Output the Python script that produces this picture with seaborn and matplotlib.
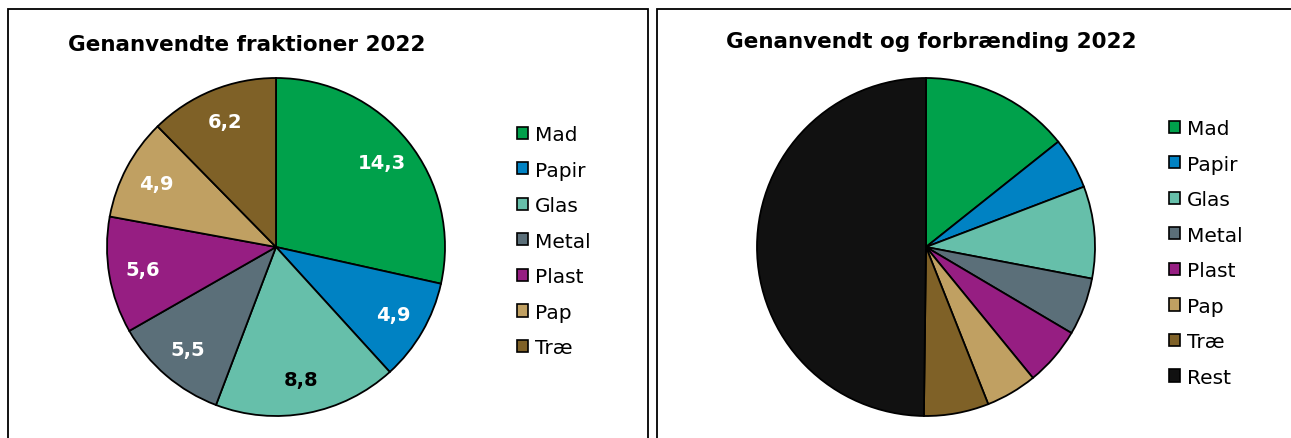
import matplotlib
matplotlib.use("Agg")
import matplotlib.pyplot as plt
from matplotlib.patches import Patch, Rectangle
import seaborn as sns

sns.set_theme(style="white")
plt.rcParams['font.family'] = ['DejaVu Sans']
plt.rcParams['text.color'] = 'black'

# ---- data ----
categories_left = ["Mad", "Papir", "Glas", "Metal", "Plast", "Pap", "Træ"]
values_left = [14.3, 4.9, 8.8, 5.5, 5.6, 4.9, 6.2]
categories_right = ["Mad", "Papir", "Glas", "Metal", "Plast", "Pap", "Træ", "Rest"]
values_right = [14.3, 4.9, 8.8, 5.5, 5.6, 4.9, 6.2, 49.8]
label_texts = ["14,3", "4,9", "8,8", "5,5", "5,6", "4,9", "6,2"]
label_colors = ["white", "white", "black", "white", "white", "white", "white"]
colors = ["#00A14B", "#0082C3", "#66BFAA", "#5B6F79", "#961E82", "#C0A062", "#7F6127", "#111111"]
title_left = "Genanvendte fraktioner 2022"
title_right = "Genanvendt og forbrænding 2022"

W, H = 1291, 439
fig = plt.figure(figsize=(W / 100, H / 100), dpi=100)
fig.patch.set_facecolor("white")

R = 169.0  # pie radius px
LIM = 1.25
side = 2 * LIM * R


def pie_axes(cx, cy):
    left = (cx - side / 2) / W
    bottom = (H - cy - side / 2) / H
    return fig.add_axes([left, bottom, side / W, side / H])


# panel borders
for x0, x1 in [(7.5, 648.5), (656.5, 1300)]:
    fig.add_artist(Rectangle((x0 / W, -20 / H), (x1 - x0) / W, (H - 9.5 + 20) / H,
                             transform=fig.transFigure, fill=False,
                             edgecolor="black", linewidth=1.3))

# left pie
axL = pie_axes(276, 248)
wedges, _, autotexts = axL.pie(values_left, colors=colors[:7], startangle=90,
                               counterclock=False, autopct="%1.1f", pctdistance=0.8,
                               wedgeprops=dict(edgecolor="black", linewidth=1.3))
for t, s, c in zip(autotexts, label_texts, label_colors):
    t.set_text(s)
    t.set_color(c)
    t.set_fontsize(14)
    t.set_fontweight("bold")
axL.set_xlim(-LIM, LIM)
axL.set_ylim(-LIM, LIM)
axL.set_aspect("equal")
axL.axis("off")

# right pie
axR = pie_axes(926, 248)
axR.pie(values_right, colors=colors, startangle=90, counterclock=False,
        wedgeprops=dict(edgecolor="black", linewidth=1.3))
axR.set_xlim(-LIM, LIM)
axR.set_ylim(-LIM, LIM)
axR.set_aspect("equal")
axR.axis("off")

# titles
fig.text(68 / W, 1 - 51 / H, title_left, ha="left", va="baseline",
         fontsize=15.5, fontweight="bold", color="black")
fig.text(726 / W, 1 - 48 / H, title_right, ha="left", va="baseline",
         fontsize=15.5, fontweight="bold", color="black")


def make_legend(cats, cols, x, y):
    handles = [Patch(facecolor=c, edgecolor="black", linewidth=1.2, label=n)
               for n, c in zip(cats, cols)]
    leg = fig.legend(handles=handles, loc="upper left", bbox_to_anchor=(x / W, 1 - y / H),
                     frameon=False, fontsize=14.5, handlelength=0.55, handleheight=0.55,
                     handletextpad=0.35, labelspacing=0.82, borderpad=0, borderaxespad=0)
    for t in leg.get_texts():
        t.set_color("black")


make_legend(categories_left, colors[:7], 517, 126)
make_legend(categories_right, colors, 1169, 120)

fig.savefig("out.png", dpi=100, facecolor="white")
